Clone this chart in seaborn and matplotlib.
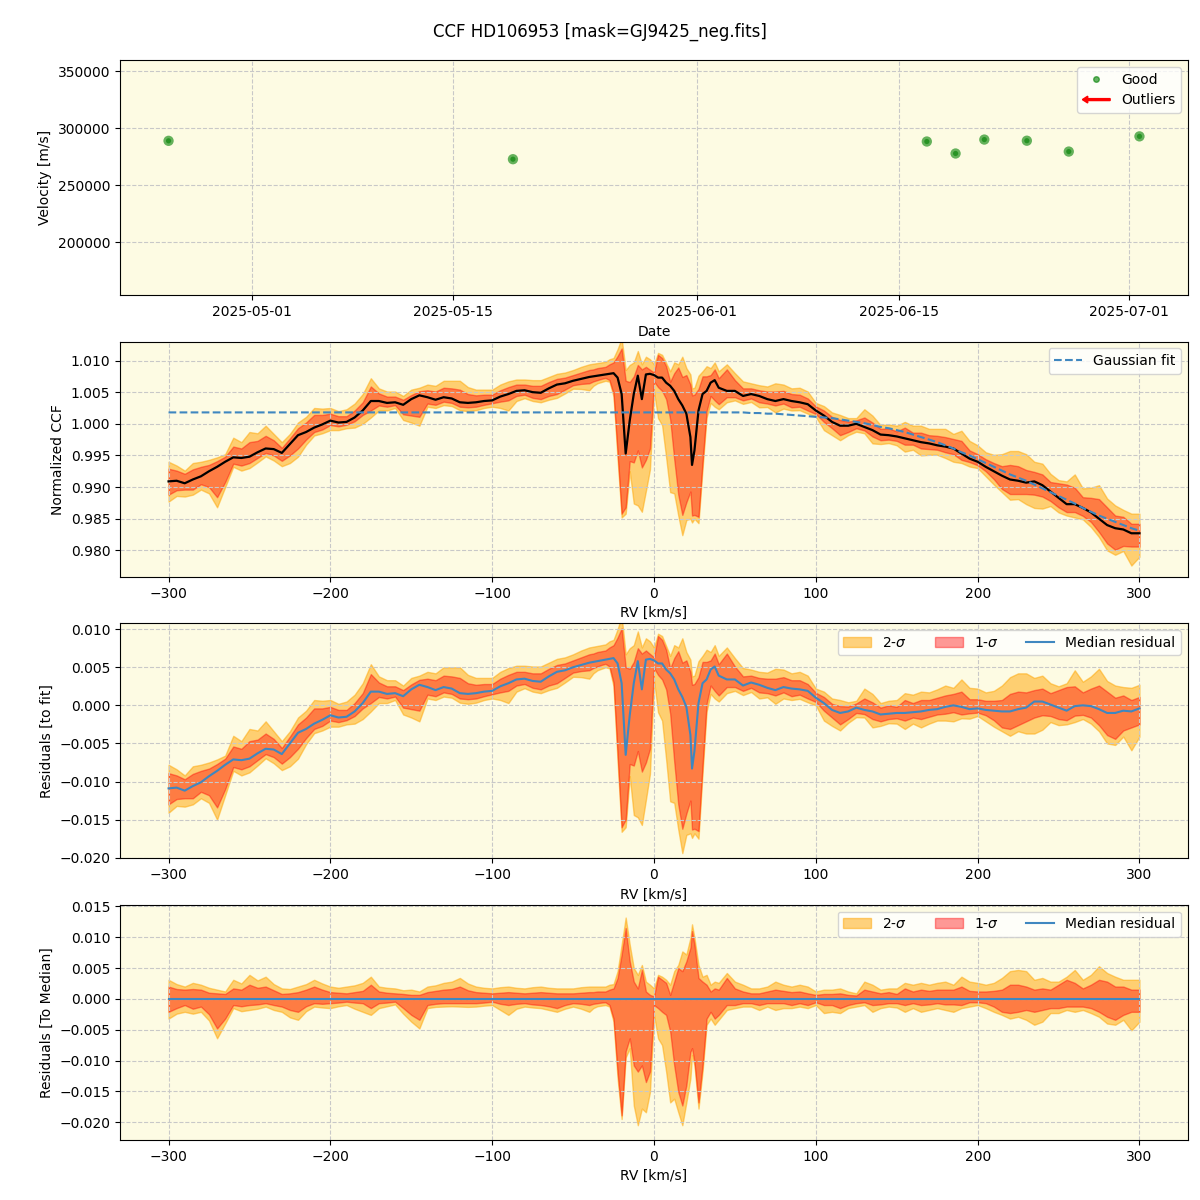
# CCF summary plot: velocities, median CCF with sigma bands, residuals
import numpy as np
import pandas as pd
import matplotlib
matplotlib.use('Agg')
import matplotlib.pyplot as plt
import matplotlib.dates as mdates
import matplotlib.patches as mpatches
from matplotlib.legend_handler import HandlerPatch
from matplotlib.lines import Line2D
import seaborn as sns

# Observation dates and velocities (m/s)
obs_dates = ['2025-04-25 05:00', '2025-05-19 04:00', '2025-06-16 23:00', '2025-06-18 23:00',
             '2025-06-20 23:00', '2025-06-23 22:00', '2025-06-26 20:00', '2025-07-01 18:00']
obs_vel = [288900, 272800, 288300, 277800, 290000, 289000, 279500, 292800]

# RV grid (km/s): 5 km/s steps, finer around the line centre
rv_mid = [-37.5, -35, -32.5, -30, -27.5, -25, -22.5, -20, -17.5, -15,
          -12.5, -10, -7.5, -5, -2.5, 0, 2.5, 5, 7.5, 10,
          12.5, 15, 17.5, 20, 22.5, 23.5, 25, 27.5, 30, 32.5,
          35, 37.5]
rv = np.concatenate([np.arange(-300, -35, 5), rv_mid, np.arange(40, 305, 5)])

# Median normalized CCF
ccf_median = [
    0.9909, 0.9910, 0.9906, 0.9912, 0.9917, 0.9925, 0.9932, 0.9940, 0.9947, 0.9946,
    0.9948, 0.9955, 0.9961, 0.9960, 0.9954, 0.9968, 0.9982, 0.9987, 0.9994, 0.9999,
    1.0005, 1.0002, 1.0003, 1.0010, 1.0021, 1.0036, 1.0036, 1.0033, 1.0034, 1.0030,
    1.0039, 1.0045, 1.0042, 1.0038, 1.0042, 1.0040, 1.0034, 1.0033, 1.0034, 1.0036,
    1.0037, 1.0043, 1.0047, 1.0052, 1.0053, 1.0050, 1.0049, 1.0056, 1.0062, 1.0064,
    1.0068, 1.0071, 1.0074,
    # centre
    1.0075, 1.0076, 1.0077, 1.0078, 1.0079, 1.0080, 1.0073, 1.0047, 0.9953, 1.0005,
    1.0047, 1.0076, 1.0039, 1.0078, 1.0079, 1.0077, 1.0073, 1.0073, 1.0065, 1.0060,
    1.0052, 1.0039, 1.0029, 1.0016, 0.9979, 0.9935, 0.9958, 1.0021, 1.0047, 1.0052,
    1.0065, 1.0069,
    # right wing
    1.0057, 1.0052, 1.0052, 1.0044, 1.0047, 1.0044, 1.0039, 1.0036, 1.0039, 1.0036,
    1.0034, 1.0031, 1.0021, 1.0013, 1.0003, 0.9997, 0.9997, 1.0000, 0.9995, 0.9990,
    0.9983, 0.9982, 0.9980, 0.9977, 0.9974, 0.9971, 0.9969, 0.9966, 0.9964, 0.9961,
    0.9953, 0.9945, 0.9940, 0.9932, 0.9925, 0.9918, 0.9912, 0.9910, 0.9907, 0.9909,
    0.9903, 0.9893, 0.9883, 0.9873, 0.9873, 0.9867, 0.9860, 0.9850, 0.9840, 0.9835,
    0.9833, 0.9827, 0.9827]

# Gaussian fit curve
ccf_fit = [1.0018] * 85 + [
    1.0018, 1.0018, 1.0018, 1.0018, 1.0017, 1.0017, 1.0016, 1.0016, 1.0015, 1.0014,
    1.0013, 1.0012, 1.0011, 1.0010, 1.0009, 1.0007, 1.0005, 1.0003, 1.0001, 0.9998,
    0.9995, 0.9993, 0.9990, 0.9987, 0.9983, 0.9979, 0.9975, 0.9971, 0.9966, 0.9961,
    0.9955, 0.9950, 0.9944, 0.9938, 0.9932, 0.9926, 0.9920, 0.9915, 0.9910, 0.9904,
    0.9898, 0.9892, 0.9886, 0.9880, 0.9874, 0.9867, 0.9861, 0.9855, 0.9850, 0.9845,
    0.9840, 0.9835, 0.9831]

# Sigma band edges relative to the median (units of 1e-3)
sig2_hi = [
    3.1, 2.4, 2.0, 2.6, 2.3, 1.8, 1.5, 1.2, 3.1, 2.5,
    3.9, 3.0, 3.6, 2.4, 1.7, 1.6, 2.0, 2.4, 3.1, 2.5,
    2.0, 1.8, 2.0, 2.2, 2.6, 3.6, 2.0, 1.8, 1.7, 1.4,
    1.5, 1.2, 2.0, 2.2, 2.6, 2.8, 3.4, 2.5, 2.0, 1.8,
    1.7, 1.9, 2.0, 1.8, 1.7, 1.9, 2.0, 1.8, 1.7, 1.7,
    1.7, 1.9, 2.0,
    2.0, 2.0, 2.0, 2.0, 2.3, 2.4, 4.5, 8.8, 13.2, 8.8,
    5.0, 3.9, 5.5, 2.8, 2.3, 1.7, 3.9, 3.6, 3.1, 2.3,
    4.5, 5.5, 7.7, 7.2, 9.9, 12.1, 9.9, 5.5, 3.6, 3.9,
    2.3, 2.8,
    2.6, 4.2, 2.8, 2.3, 1.7, 1.7, 2.0, 2.8, 2.3, 2.0,
    2.3, 2.0, 1.2, 1.5, 1.5, 1.7, 1.2, 0.9, 2.8, 2.3,
    1.5, 1.7, 1.7, 2.6, 2.3, 2.6, 2.3, 2.6, 2.8, 2.3,
    3.6, 2.8, 2.6, 2.3, 2.6, 3.4, 4.5, 4.7, 4.5, 3.1,
    3.4, 2.8, 2.8, 3.6, 4.7, 3.1, 3.9, 5.3, 4.2, 3.6,
    3.1, 3.1, 3.1]
sig1_hi = [
    2.0, 1.6, 1.5, 1.6, 1.5, 1.0, 0.9, 0.8, 1.7, 1.5,
    2.3, 1.8, 2.0, 1.4, 0.8, 0.9, 1.1, 1.5, 2.0, 1.5,
    1.1, 1.0, 0.9, 1.1, 1.3, 2.3, 1.2, 1.0, 0.9, 0.8,
    0.65, 0.65, 1.1, 1.3, 1.5, 1.6, 2.0, 1.4, 1.1, 1.0,
    0.9, 1.0, 1.1, 1.0, 0.9, 1.0, 1.1, 1.0, 0.9, 0.9,
    0.9, 1.0, 1.1,
    1.1, 1.2, 1.2, 1.2, 1.5, 1.7, 3.4, 7.2, 11.5, 6.1,
    2.8, 1.7, 4.7, 1.2, 0.65, 0.4, 3.6, 3.1, 2.6, 0.65,
    2.8, 5.0, 4.5, 6.1, 8.3, 11.0, 8.8, 3.4, 2.8, 2.3,
    1.2, 1.7,
    1.5, 3.4, 1.7, 1.2, 0.9, 0.9, 1.2, 1.5, 1.3, 1.1,
    1.2, 0.9, 0.65, 0.8, 0.8, 0.9, 0.65, 0.55, 1.5, 1.2,
    0.9, 1.1, 0.8, 1.7, 1.2, 1.5, 1.3, 1.5, 1.5, 1.5,
    2.0, 1.3, 1.2, 1.2, 1.3, 1.5, 2.3, 2.3, 2.0, 1.5,
    1.7, 1.5, 2.3, 3.1, 2.6, 1.7, 2.3, 3.1, 2.8, 2.0,
    2.0, 1.5, 1.5]
sig1_lo = [
    -2.1, -1.5, -1.0, -1.6, -1.25, -2.5, -4.8, -3.2, -1.0, -1.2,
    -1.0, -0.9, -0.7, -1.0, -1.25, -1.8, -2.1, -1.2, -0.7, -0.8,
    -0.7, -0.6, -0.45, -0.6, -0.7, -1.5, -0.7, -0.6, -0.45, -1.5,
    -2.6, -3.4, -1.0, -0.8, -0.7, -0.7, -0.7, -0.7, -0.7, -0.6,
    -0.45, -0.8, -1.0, -0.8, -0.7, -0.9, -1.0, -1.2, -1.5, -1.0,
    -0.7, -0.8, -1.0,
    -0.8, -0.7, -0.6, -0.55, -1.0, -3.2, -11.8, -18.9, -8.5, -6.4,
    -10.8, -11.8, -10.8, -13.5, -11.8, -1.0, -1.5, -2.1, -2.6, -5.3,
    -10.8, -15.1, -17.3, -14.0, -8.6, -8.0, -10.2, -16.8, -10.8, -3.2,
    -2.1, -3.2,
    -2.6, -1.0, -1.0, -0.7, -0.7, -1.0, -0.7, -0.7, -0.7, -1.0,
    -0.7, -1.0, -0.55, -1.0, -1.0, -1.5, -1.0, -0.7, -0.55, -1.0,
    -0.9, -0.7, -0.7, -1.0, -0.7, -1.0, -0.9, -0.7, -0.9, -0.9,
    -1.0, -0.55, -0.55, -0.7, -1.25, -2.1, -2.3, -2.1, -1.8, -2.1,
    -1.8, -1.5, -1.5, -1.25, -1.25, -1.25, -1.5, -2.1, -2.9, -3.4,
    -2.6, -2.1, -2.1]
sig2_lo = [
    -3.2, -2.4, -2.1, -2.4, -2.1, -3.5, -6.4, -4.0, -1.5, -2.0,
    -1.8, -1.6, -1.25, -1.8, -2.1, -3.0, -3.4, -2.0, -1.25, -1.4,
    -1.5, -1.2, -1.0, -1.6, -2.1, -2.6, -1.5, -1.2, -0.9, -2.4,
    -3.7, -4.8, -1.5, -1.3, -1.25, -1.2, -1.25, -1.3, -1.25, -1.1,
    -1.0, -1.8, -2.6, -1.6, -1.25, -1.4, -1.5, -1.8, -2.1, -1.6,
    -1.25, -1.6, -2.1,
    -1.5, -1.2, -1.1, -1.0, -1.25, -3.7, -12.9, -19.5, -9.5, -8.0,
    -17.3, -20.5, -17.8, -18.4, -15.1, -2.6, -6.4, -7.5, -11.8, -16.8,
    -16.2, -18.4, -20.5, -16.8, -12.9, -9.1, -10.8, -17.8, -11.8, -4.2,
    -3.2, -4.2,
    -3.4, -1.8, -1.5, -1.25, -1.25, -1.8, -1.25, -1.8, -1.5, -1.5,
    -1.25, -1.5, -1.0, -2.3, -2.1, -2.3, -1.5, -1.25, -1.0, -2.1,
    -1.5, -1.25, -1.4, -2.1, -1.5, -2.1, -1.8, -1.5, -1.8, -2.1,
    -1.5, -1.25, -1.0, -1.5, -2.1, -2.6, -3.2, -2.9, -3.4, -4.2,
    -3.7, -2.3, -2.3, -1.8, -2.1, -1.8, -2.3, -2.9, -4.0, -4.2,
    -3.4, -5.1, -3.7]

BG = '#fdfbe3'
C2 = 'orange'
C1 = 'red'
BLUE = '#3f87c0'


class ArrowHandler(HandlerPatch):
    # draws a left-pointing red arrow as legend handle
    def create_artists(self, legend, orig_handle, xdescent, ydescent,
                       width, height, fontsize, trans):
        arrow = mpatches.FancyArrow(width - xdescent, height / 2 - ydescent, -width, 0,
                                    width=height * 0.2, head_width=height * 0.7,
                                    head_length=height * 0.55, length_includes_head=True,
                                    color='red')
        arrow.set_transform(trans)
        return [arrow]


def style_axis(ax):
    ax.set_facecolor(BG)
    ax.grid(True, linestyle='--', color='#c8c8c8', linewidth=0.8)


med = np.array(ccf_median)
fit = np.array(ccf_fit)
h2 = np.array(sig2_hi) * 1e-3
h1 = np.array(sig1_hi) * 1e-3
l1 = np.array(sig1_lo) * 1e-3
l2 = np.array(sig2_lo) * 1e-3

fig, axes = plt.subplots(4, 1, figsize=(12, 12), dpi=100)
fig.subplots_adjust(left=0.1, right=0.99, top=0.95, bottom=0.05, hspace=0.196)
fig.suptitle('CCF HD106953 [mask=GJ9425_neg.fits]', fontsize=12, y=0.981)

# Panel 1: velocities over time
ax = axes[0]
style_axis(ax)
df = pd.DataFrame({'date': pd.to_datetime(obs_dates), 'vel': obs_vel})
sns.scatterplot(data=df, x='date', y='vel', ax=ax, color='green', s=55, alpha=0.6,
                edgecolor='none', zorder=3)
sns.scatterplot(data=df, x='date', y='vel', ax=ax, color='green', s=14, alpha=0.6,
                edgecolor='none', zorder=4)
ax.set_ylim(153500, 359700)
ax.xaxis.set_major_locator(mdates.DayLocator(bymonthday=[1, 15]))
ax.xaxis.set_major_formatter(mdates.DateFormatter('%Y-%m-%d'))
ax.set_xlabel('Date')
ax.set_ylabel('Velocity [m/s]')
good = Line2D([], [], marker='o', linestyle='', color='green', alpha=0.6, markersize=4)
outl = mpatches.FancyArrow(0, 0, 1, 0)
ax.legend(handles=[good, outl], labels=['Good', 'Outliers'], loc='upper right',
          handler_map={outl: ArrowHandler()})

# Panel 2: normalized CCF
ax = axes[1]
style_axis(ax)
ax.fill_between(rv, med + l2, med + h2, color=C2, alpha=0.5)
ax.fill_between(rv, med + l1, med + h1, color=C1, alpha=0.4)
sns.lineplot(x=rv, y=med, ax=ax, color='black', linewidth=1.6)
sns.lineplot(x=rv, y=fit, ax=ax, color=BLUE, linewidth=1.5, linestyle='--',
             label='Gaussian fit')
ax.set_ylim(0.9758, 1.0130)
ax.set_xlabel('RV [km/s]')
ax.set_ylabel('Normalized CCF')
ax.legend(loc='upper right')

# Panel 3: residuals to the fit
ax = axes[2]
style_axis(ax)
res = med - fit
ax.fill_between(rv, res + l2, res + h2, color=C2, alpha=0.5, label='2-$\\sigma$')
ax.fill_between(rv, res + l1, res + h1, color=C1, alpha=0.4, label='1-$\\sigma$')
sns.lineplot(x=rv, y=res, ax=ax, color=BLUE, linewidth=1.5, label='Median residual')
ax.set_ylim(-0.0201, 0.0108)
ax.set_xlabel('RV [km/s]')
ax.set_ylabel('Residuals [to fit]')
ax.legend(loc='upper right', ncol=3)

# Panel 4: residuals to the median
ax = axes[3]
style_axis(ax)
zero = np.zeros_like(med)
ax.fill_between(rv, l2, h2, color=C2, alpha=0.5, label='2-$\\sigma$')
ax.fill_between(rv, l1, h1, color=C1, alpha=0.4, label='1-$\\sigma$')
sns.lineplot(x=rv, y=zero, ax=ax, color=BLUE, linewidth=1.5, label='Median residual')
ax.set_ylim(-0.0229, 0.0153)
ax.set_xlabel('RV [km/s]')
ax.set_ylabel('Residuals [To Median]')
ax.legend(loc='upper right', ncol=3)

for a in axes[1:]:
    a.set_xlim(-330, 330)

fig.savefig('out.png', dpi=100)
